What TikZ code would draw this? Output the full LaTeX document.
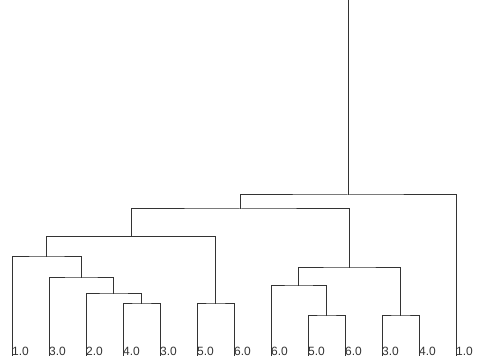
\documentclass[tikz,border=0pt]{standalone}
\usepackage{fontspec}
\setmainfont{Liberation Sans}
\tikzset{
  foglia/.style={anchor=base west, inner sep=0pt, text=black!80, font=\fontsize{12}{14}\selectfont},
  ramo/.style={draw=black!80, line width=1pt}
}
\begin{document}
\begin{tikzpicture}[x=1pt,y=1pt]
            %disegna un dendrogramma con 13 foglie
            \useasboundingbox (0,0) rectangle (481,363);
            \node[foglia] (1) at (12,7) {1.0};
            \node[foglia] (2) at (49,7) {3.0};
            \node[foglia] (3) at (86,7) {2.0};
            \node[foglia] (4) at (123,7) {4.0};
            \node[foglia] (5) at (160,7) {3.0};
            \node[foglia] (6) at (197,7) {5.0};
            \node[foglia] (7) at (234,7) {6.0};
            \node[foglia] (8) at (271,7) {6.0};
            \node[foglia] (9) at (308,7) {5.0};
            \node[foglia] (10) at (345,7) {6.0};
            \node[foglia] (11) at (382,7) {3.0};
            \node[foglia] (12) at (419,7) {4.0};
            \node[foglia] (13) at (456,7) {1.0};

            \coordinate (m1) at (141.5,59);
            \coordinate (m2) at (113.8,69);
            \coordinate (m3) at (81.4,85);
            \coordinate (m4) at (46.7,106);
            \coordinate (m5) at (215.5,59);
            \coordinate (m6) at (131.1,126.5);
            \coordinate (m7) at (326.5,47);
            \coordinate (m8) at (298.8,77);
            \coordinate (m9) at (400.5,47);
            \coordinate (m10) at (349.6,95);
            \coordinate (m11) at (240.4,154);
            \coordinate (m12) at (348.2,168);
            \coordinate (r) at (348.2,363);

            \draw[ramo] (4.base west) |- (m1) -| (5.base west);
            \draw[ramo] (3.base west) |- (m2) -| (m1);
            \draw[ramo] (2.base west) |- (m3) -| (m2);
            \draw[ramo] (1.base west) |- (m4) -| (m3);
            \draw[ramo] (6.base west) |- (m5) -| (7.base west);
            \draw[ramo] (m4) |- (m6) -| (m5);
            \draw[ramo] (9.base west) |- (m7) -| (10.base west);
            \draw[ramo] (8.base west) |- (m8) -| (m7);
            \draw[ramo] (11.base west) |- (m9) -| (12.base west);
            \draw[ramo] (m8) |- (m10) -| (m9);
            \draw[ramo] (m6) |- (m11) -| (m10);
            \draw[ramo] (m11) |- (m12) -| (13.base west);
            \draw[ramo] (m12) -- (r);

        \end{tikzpicture}
\end{document}
